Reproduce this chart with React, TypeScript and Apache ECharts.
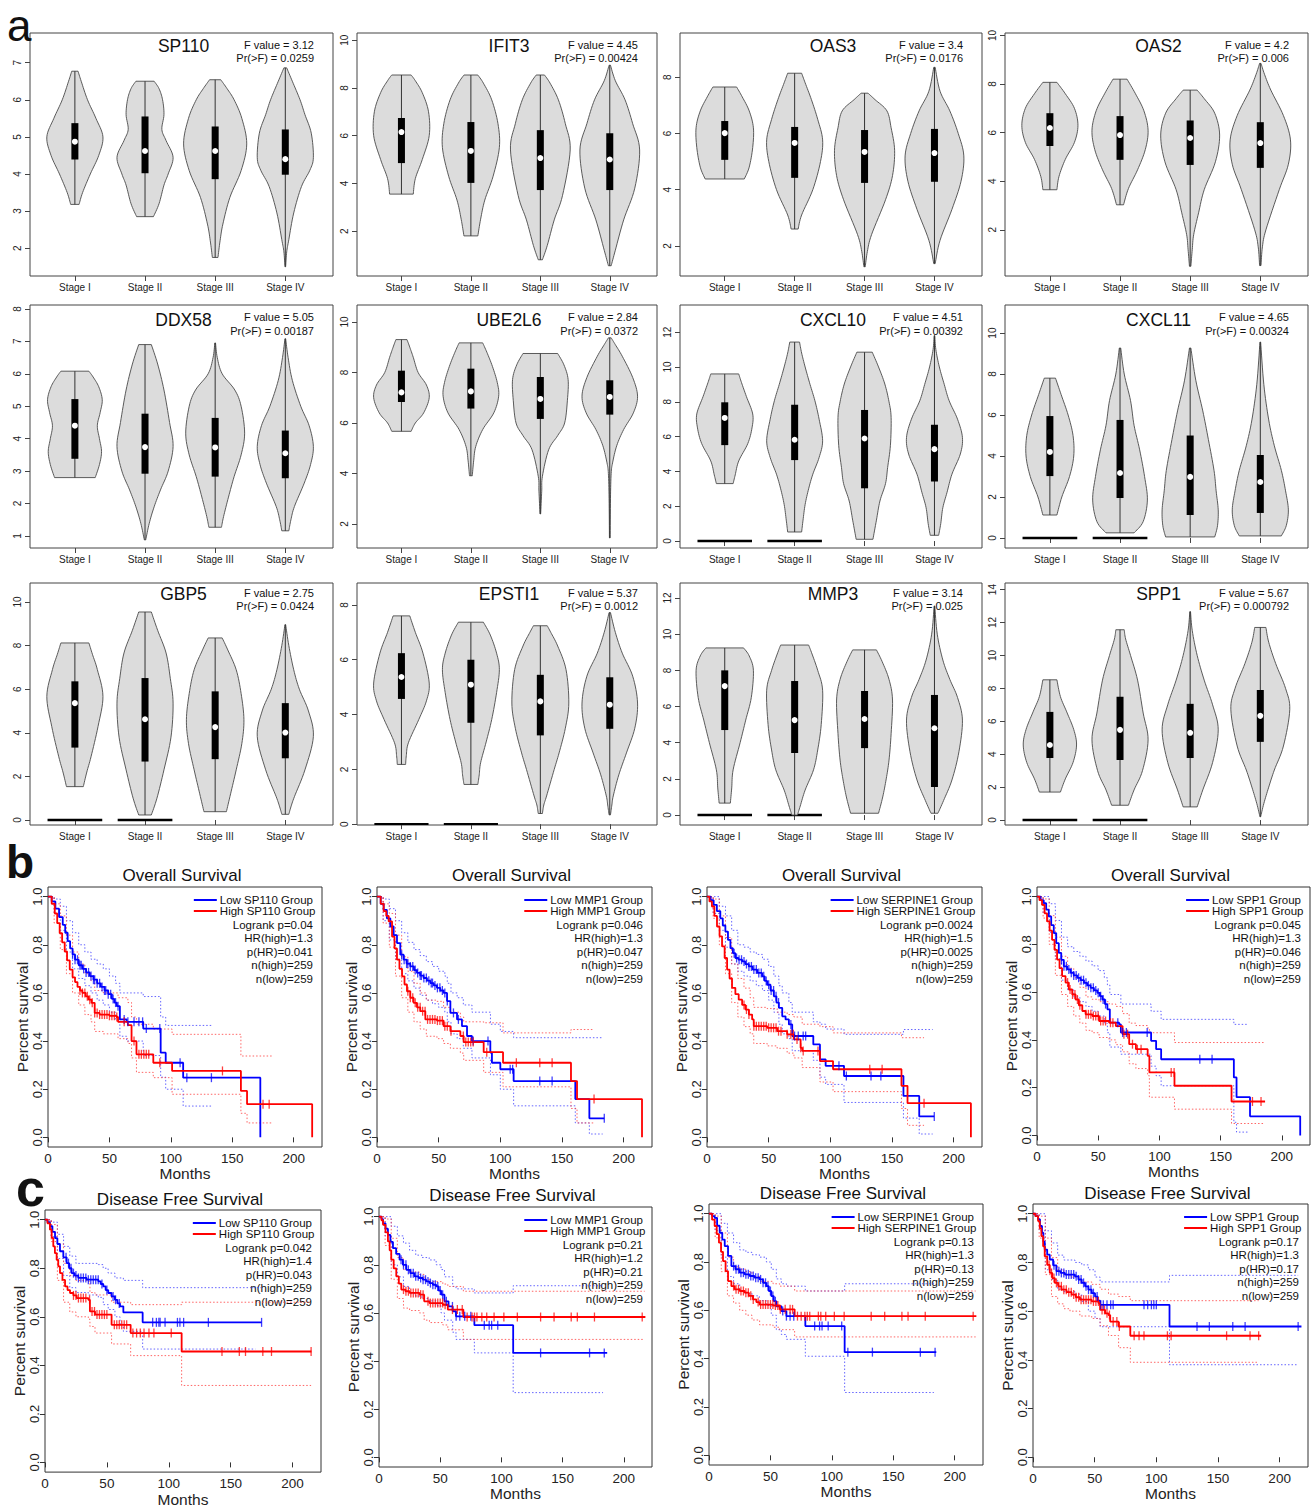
import React, { useEffect, useRef } from "react";
import * as echarts from "echarts";

const FONT = '"Liberation Sans", Arial, Helvetica, sans-serif';
const STAGES = ["Stage I", "Stage II", "Stage III", "Stage IV"];
const STAGE_POS = [1, 2, 3, 4];

// ---------------- Panel a: violin profiles ([expression, half-width]) and boxes [q1, median, q3] ----------------
const sp110Shapes = [
  [[3.18, 0.06], [3.5, 0.11], [4.0, 0.22], [4.5, 0.34], [5.0, 0.4], [5.5, 0.3], [6.0, 0.18], [6.5, 0.09], [6.77, 0.045]],
  [[2.85, 0.12], [3.2, 0.2], [3.7, 0.27], [4.0, 0.33], [4.45, 0.4], [4.9, 0.3], [5.2, 0.24], [5.6, 0.27], [6.0, 0.25], [6.3, 0.2], [6.5, 0.13]],
  [[1.75, 0.04], [2.2, 0.07], [2.65, 0.11], [3.37, 0.21], [4.09, 0.37], [4.81, 0.45], [5.5, 0.38], [6.0, 0.27], [6.3, 0.17], [6.54, 0.08]],
  [[1.5, 0.005], [1.9, 0.02], [2.23, 0.05], [2.95, 0.12], [3.66, 0.23], [4.1, 0.35], [4.44, 0.4], [5.1, 0.37], [5.6, 0.28], [6.0, 0.21], [6.5, 0.1], [6.86, 0.02]],
];
const sp110Boxes = [[4.39, 4.87, 5.37], [4.02, 4.62, 5.55], [3.86, 4.62, 5.28], [3.98, 4.4, 5.2]];
const sp110Ticks = [2, 3, 4, 5, 6, 7];
const sp110Range = [1.25, 7.8];
const sp110Stats = ["3.12", "0.0259"];
const sp110Zero: number[] = [];

const ifit3Shapes = [
  [[3.55, 0.17], [4.2, 0.2], [5.0, 0.3], [6.0, 0.4], [7.0, 0.39], [7.8, 0.3], [8.3, 0.2], [8.54, 0.14]],
  [[1.8, 0.1], [2.5, 0.14], [3.3, 0.2], [4.3, 0.32], [5.5, 0.41], [6.5, 0.39], [7.5, 0.3], [8.2, 0.18], [8.54, 0.1]],
  [[0.8, 0.03], [1.4, 0.1], [2.47, 0.2], [3.5, 0.32], [5.4, 0.43], [6.5, 0.36], [7.5, 0.26], [8.2, 0.14], [8.54, 0.06]],
  [[0.55, 0.02], [1.2, 0.08], [2.47, 0.2], [3.8, 0.36], [5.4, 0.43], [6.5, 0.33], [7.5, 0.22], [8.3, 0.08], [8.95, 0.01]],
];
const ifit3Boxes = [[4.85, 6.15, 6.74], [4.02, 5.36, 6.57], [3.72, 5.06, 6.23], [3.72, 5.0, 6.1]];
const ifit3Ticks = [2, 4, 6, 8, 10];
const ifit3Range = [0.12, 10.3];
const ifit3Stats = ["4.45", "0.00424"];
const ifit3Zero: number[] = [];

const oas3Shapes = [
  [[4.38, 0.28], [4.8, 0.35], [5.5, 0.4], [6.2, 0.41], [6.8, 0.35], [7.3, 0.25], [7.65, 0.17]],
  [[2.6, 0.05], [3.1, 0.1], [4.0, 0.26], [5.0, 0.37], [5.77, 0.4], [6.5, 0.33], [7.2, 0.24], [7.8, 0.15], [8.14, 0.1]],
  [[1.26, 0.01], [1.8, 0.04], [2.4, 0.1], [3.64, 0.3], [4.5, 0.4], [5.4, 0.43], [6.2, 0.38], [6.8, 0.32], [7.2, 0.15], [7.43, 0.05]],
  [[1.37, 0.01], [2.2, 0.08], [3.3, 0.25], [4.3, 0.38], [5.2, 0.42], [6.0, 0.34], [6.8, 0.22], [7.5, 0.08], [8.35, 0.01]],
];
const oas3Boxes = [[5.06, 6.01, 6.44], [4.42, 5.66, 6.23], [4.24, 5.34, 6.12], [4.28, 5.3, 6.16]];
const oas3Ticks = [2, 4, 6, 8];
const oas3Range = [0.93, 9.57];
const oas3Stats = ["3.4", "0.0176"];
const oas3Zero: number[] = [];

const oas2Shapes = [
  [[3.65, 0.1], [4.2, 0.13], [4.9, 0.22], [5.6, 0.35], [6.3, 0.4], [7.0, 0.35], [7.6, 0.22], [8.07, 0.1]],
  [[3.03, 0.05], [3.7, 0.12], [4.47, 0.25], [5.3, 0.36], [6.1, 0.4], [6.9, 0.34], [7.6, 0.22], [8.2, 0.1]],
  [[0.5, 0.01], [1.2, 0.03], [1.8, 0.05], [2.7, 0.12], [3.65, 0.2], [4.8, 0.36], [5.9, 0.42], [6.8, 0.35], [7.4, 0.2], [7.75, 0.1]],
  [[0.53, 0.01], [1.3, 0.03], [2.0, 0.08], [3.65, 0.27], [4.7, 0.4], [5.7, 0.43], [6.7, 0.33], [7.75, 0.15], [8.4, 0.06], [8.85, 0.01]],
];
const oas2Boxes = [[5.45, 6.19, 6.8], [4.88, 5.9, 6.68], [4.67, 5.78, 6.5], [4.55, 5.57, 6.43]];
const oas2Ticks = [2, 4, 6, 8, 10];
const oas2Range = [0.1, 10.1];
const oas2Stats = ["4.2", "0.006"];
const oas2Zero: number[] = [];

const ddx58Shapes = [
  [[2.8, 0.29], [3.2, 0.35], [3.6, 0.38], [4.0, 0.35], [4.4, 0.32], [4.8, 0.36], [5.2, 0.39], [5.6, 0.34], [5.9, 0.26], [6.08, 0.2]],
  [[0.88, 0.01], [1.39, 0.06], [1.9, 0.13], [2.42, 0.22], [3.0, 0.33], [3.76, 0.4], [4.5, 0.35], [5.5, 0.27], [6.3, 0.18], [6.9, 0.09]],
  [[1.27, 0.09], [1.6, 0.12], [2.2, 0.19], [2.83, 0.27], [3.5, 0.37], [4.17, 0.42], [5.0, 0.37], [5.5, 0.28], [6.0, 0.1], [6.5, 0.03], [6.95, 0.005]],
  [[1.16, 0.05], [1.5, 0.08], [1.91, 0.13], [2.63, 0.27], [3.2, 0.36], [3.76, 0.4], [4.4, 0.34], [5.0, 0.22], [5.8, 0.1], [6.5, 0.04], [7.08, 0.005]],
];
const ddx58Boxes = [[3.38, 4.4, 5.22], [2.92, 3.74, 4.77], [2.83, 3.73, 4.64], [2.78, 3.55, 4.25]];
const ddx58Ticks = [1, 2, 3, 4, 5, 6, 7, 8];
const ddx58Range = [0.63, 8.12];
const ddx58Stats = ["5.05", "0.00187"];
const ddx58Zero: number[] = [];

const ube2l6Shapes = [
  [[5.67, 0.14], [6.0, 0.2], [6.4, 0.32], [7.0, 0.4], [7.5, 0.36], [8.0, 0.24], [8.6, 0.17], [9.0, 0.12], [9.3, 0.08]],
  [[3.91, 0.02], [4.5, 0.04], [5.07, 0.07], [5.74, 0.17], [6.4, 0.33], [7.06, 0.4], [7.6, 0.38], [8.24, 0.31], [8.8, 0.23], [9.17, 0.17]],
  [[2.4, 0.005], [3.3, 0.02], [3.89, 0.03], [4.94, 0.12], [5.5, 0.25], [6.0, 0.35], [6.9, 0.39], [7.72, 0.4], [8.3, 0.34], [8.75, 0.25]],
  [[1.45, 0.005], [3.0, 0.01], [4.0, 0.02], [4.42, 0.04], [5.1, 0.1], [5.74, 0.2], [6.4, 0.34], [7.06, 0.4], [7.8, 0.33], [8.64, 0.18], [9.1, 0.08], [9.37, 0.02]],
];
const ube2l6Boxes = [[6.83, 7.21, 8.07], [6.57, 7.25, 8.15], [6.16, 6.95, 7.82], [6.33, 7.03, 7.69]];
const ube2l6Ticks = [2, 4, 6, 8, 10];
const ube2l6Range = [1.05, 10.67];
const ube2l6Stats = ["2.84", "0.0372"];
const ube2l6Zero: number[] = [];

const cxcl10Shapes = [
  [[3.3, 0.12], [3.8, 0.15], [4.6, 0.2], [5.6, 0.33], [6.5, 0.39], [7.3, 0.4], [8.3, 0.31], [9.1, 0.24], [9.6, 0.2]],
  [[0.52, 0.1], [1.2, 0.12], [2.1, 0.15], [3.0, 0.2], [3.84, 0.26], [4.8, 0.35], [5.76, 0.4], [7.0, 0.35], [8.06, 0.29], [9.0, 0.22], [10.0, 0.15], [10.8, 0.1], [11.43, 0.07]],
  [[0.1, 0.12], [1.2, 0.17], [2.3, 0.22], [3.3, 0.3], [4.22, 0.33], [5.5, 0.37], [7.1, 0.38], [8.0, 0.35], [9.02, 0.29], [10.0, 0.2], [10.85, 0.11]],
  [[0.33, 0.06], [1.0, 0.09], [1.92, 0.12], [2.8, 0.18], [3.84, 0.25], [5.0, 0.37], [5.95, 0.4], [7.0, 0.33], [8.06, 0.21], [9.0, 0.14], [10.0, 0.07], [11.0, 0.02], [11.8, 0.005]],
];
const cxcl10Boxes = [[5.51, 7.07, 7.97], [4.65, 5.82, 7.83], [3.03, 5.89, 7.53], [3.42, 5.28, 6.68]];
const cxcl10Ticks = [0, 2, 4, 6, 8, 10, 12];
const cxcl10Range = [-0.4, 13.56];
const cxcl10Stats = ["4.51", "0.00392"];
const cxcl10Zero = [1, 2];

const cxcl11Shapes = [
  [[1.12, 0.1], [2.0, 0.17], [3.0, 0.28], [4.0, 0.34], [5.0, 0.33], [6.0, 0.26], [7.0, 0.16], [7.8, 0.08]],
  [[0.25, 0.2], [0.8, 0.33], [1.85, 0.39], [3.0, 0.35], [4.3, 0.28], [5.5, 0.2], [6.7, 0.15], [8.0, 0.06], [9.27, 0.01]],
  [[0.05, 0.35], [0.6, 0.39], [1.37, 0.4], [2.3, 0.37], [3.3, 0.34], [4.8, 0.26], [6.2, 0.18], [7.7, 0.08], [9.27, 0.01]],
  [[0.1, 0.3], [0.6, 0.37], [1.37, 0.4], [2.3, 0.36], [3.3, 0.3], [4.5, 0.2], [5.76, 0.12], [7.5, 0.05], [9.56, 0.005]],
];
const cxcl11Boxes = [[3.02, 4.2, 5.95], [1.95, 3.17, 5.76], [1.12, 2.98, 5.0], [1.22, 2.73, 4.05]];
const cxcl11Ticks = [0, 2, 4, 6, 8, 10];
const cxcl11Range = [-0.49, 11.37];
const cxcl11Stats = ["4.65", "0.00324"];
const cxcl11Zero = [1, 2];

const gbp5Shapes = [
  [[1.53, 0.12], [2.2, 0.17], [2.9, 0.23], [4.29, 0.33], [5.67, 0.4], [6.9, 0.32], [7.6, 0.25], [8.12, 0.2]],
  [[0.23, 0.09], [1.0, 0.17], [2.3, 0.27], [3.8, 0.37], [5.36, 0.4], [6.5, 0.36], [7.66, 0.3], [8.7, 0.18], [9.54, 0.09]],
  [[0.38, 0.16], [1.2, 0.22], [2.3, 0.3], [3.5, 0.38], [4.6, 0.41], [5.8, 0.37], [6.89, 0.3], [7.8, 0.18], [8.35, 0.1]],
  [[0.26, 0.05], [0.6, 0.08], [1.07, 0.13], [2.3, 0.28], [3.83, 0.4], [5.0, 0.33], [6.0, 0.2], [6.89, 0.12], [8.0, 0.05], [8.96, 0.005]],
];
const gbp5Boxes = [[3.32, 5.36, 6.36], [2.68, 4.62, 6.51], [2.79, 4.26, 5.9], [2.83, 4.01, 5.36]];
const gbp5Ticks = [0, 2, 4, 6, 8, 10];
const gbp5Range = [-0.23, 10.87];
const gbp5Stats = ["2.75", "0.0424"];
const gbp5Zero = [1, 2];

const epsti1Shapes = [
  [[2.18, 0.06], [2.5, 0.07], [2.97, 0.1], [3.82, 0.25], [4.5, 0.36], [5.15, 0.4], [6.24, 0.31], [7.0, 0.2], [7.6, 0.12]],
  [[1.45, 0.1], [1.8, 0.12], [2.24, 0.14], [3.0, 0.22], [3.82, 0.3], [4.8, 0.37], [5.64, 0.41], [6.24, 0.37], [6.9, 0.28], [7.37, 0.18]],
  [[0.39, 0.03], [0.7, 0.05], [1.03, 0.09], [2.0, 0.2], [2.6, 0.27], [3.5, 0.36], [4.42, 0.41], [5.64, 0.37], [6.5, 0.25], [7.0, 0.15], [7.24, 0.1]],
  [[0.34, 0.01], [0.7, 0.03], [1.03, 0.05], [1.8, 0.13], [2.6, 0.24], [3.5, 0.36], [4.42, 0.4], [5.4, 0.33], [6.24, 0.18], [7.0, 0.08], [7.72, 0.01]],
];
const epsti1Boxes = [[4.57, 5.37, 6.24], [3.7, 5.09, 6.0], [3.24, 4.48, 5.45], [3.48, 4.36, 5.36]];
const epsti1Ticks = [0, 2, 4, 6, 8];
const epsti1Range = [-0.03, 8.8];
const epsti1Stats = ["5.37", "0.0012"];
const epsti1Zero = [1, 2];

const mmp3Shapes = [
  [[0.66, 0.08], [1.5, 0.1], [2.5, 0.12], [4.0, 0.22], [5.25, 0.3], [6.5, 0.38], [8.0, 0.41], [8.8, 0.35], [9.24, 0.27]],
  [[0.0, 0.04], [0.5, 0.08], [1.38, 0.15], [2.5, 0.27], [3.6, 0.33], [5.0, 0.38], [6.9, 0.4], [8.0, 0.33], [9.0, 0.24], [9.4, 0.2]],
  [[0.1, 0.2], [1.0, 0.26], [2.0, 0.31], [3.04, 0.35], [4.5, 0.38], [6.36, 0.4], [7.5, 0.35], [8.5, 0.25], [9.13, 0.17]],
  [[0.1, 0.05], [0.8, 0.13], [1.94, 0.25], [3.5, 0.35], [5.25, 0.4], [6.5, 0.33], [7.5, 0.22], [8.57, 0.12], [10.0, 0.04], [11.56, 0.005]],
];
const mmp3Boxes = [[4.7, 7.13, 8.0], [3.43, 5.25, 7.41], [3.7, 5.31, 6.86], [1.55, 4.8, 6.64]];
const mmp3Ticks = [0, 2, 4, 6, 8, 10, 12];
const mmp3Range = [-0.55, 12.83];
const mmp3Stats = ["3.14", "0.025"];
const mmp3Zero = [1, 2];

const spp1Shapes = [
  [[1.7, 0.15], [2.5, 0.22], [3.5, 0.33], [4.56, 0.38], [5.5, 0.34], [6.57, 0.24], [7.5, 0.15], [8.52, 0.1]],
  [[0.9, 0.12], [1.83, 0.2], [3.0, 0.32], [4.87, 0.4], [6.5, 0.33], [8.5, 0.25], [10.0, 0.15], [11.0, 0.08], [11.56, 0.06]],
  [[0.8, 0.1], [1.83, 0.18], [3.5, 0.32], [5.48, 0.4], [7.0, 0.32], [8.5, 0.2], [10.0, 0.1], [11.5, 0.03], [12.66, 0.005]],
  [[0.2, 0.005], [1.0, 0.05], [2.0, 0.12], [3.04, 0.2], [4.5, 0.33], [6.7, 0.42], [8.0, 0.36], [9.5, 0.22], [10.8, 0.12], [11.7, 0.08]],
];
const spp1Boxes = [[3.77, 4.56, 6.57], [3.65, 5.48, 7.49], [3.77, 5.3, 7.06], [4.75, 6.33, 7.9]];
const spp1Ticks = [0, 2, 4, 6, 8, 10, 12, 14];
const spp1Range = [-0.3, 14.4];
const spp1Stats = ["5.67", "0.000792"];
const spp1Zero = [1, 2];

const violinGenes = [
  { name: "SP110", shapes: sp110Shapes, boxes: sp110Boxes, ticks: sp110Ticks, range: sp110Range, stats: sp110Stats, zero: sp110Zero },
  { name: "IFIT3", shapes: ifit3Shapes, boxes: ifit3Boxes, ticks: ifit3Ticks, range: ifit3Range, stats: ifit3Stats, zero: ifit3Zero },
  { name: "OAS3", shapes: oas3Shapes, boxes: oas3Boxes, ticks: oas3Ticks, range: oas3Range, stats: oas3Stats, zero: oas3Zero },
  { name: "OAS2", shapes: oas2Shapes, boxes: oas2Boxes, ticks: oas2Ticks, range: oas2Range, stats: oas2Stats, zero: oas2Zero },
  { name: "DDX58", shapes: ddx58Shapes, boxes: ddx58Boxes, ticks: ddx58Ticks, range: ddx58Range, stats: ddx58Stats, zero: ddx58Zero },
  { name: "UBE2L6", shapes: ube2l6Shapes, boxes: ube2l6Boxes, ticks: ube2l6Ticks, range: ube2l6Range, stats: ube2l6Stats, zero: ube2l6Zero },
  { name: "CXCL10", shapes: cxcl10Shapes, boxes: cxcl10Boxes, ticks: cxcl10Ticks, range: cxcl10Range, stats: cxcl10Stats, zero: cxcl10Zero },
  { name: "CXCL11", shapes: cxcl11Shapes, boxes: cxcl11Boxes, ticks: cxcl11Ticks, range: cxcl11Range, stats: cxcl11Stats, zero: cxcl11Zero },
  { name: "GBP5", shapes: gbp5Shapes, boxes: gbp5Boxes, ticks: gbp5Ticks, range: gbp5Range, stats: gbp5Stats, zero: gbp5Zero },
  { name: "EPSTI1", shapes: epsti1Shapes, boxes: epsti1Boxes, ticks: epsti1Ticks, range: epsti1Range, stats: epsti1Stats, zero: epsti1Zero },
  { name: "MMP3", shapes: mmp3Shapes, boxes: mmp3Boxes, ticks: mmp3Ticks, range: mmp3Range, stats: mmp3Stats, zero: mmp3Zero },
  { name: "SPP1", shapes: spp1Shapes, boxes: spp1Boxes, ticks: spp1Ticks, range: spp1Range, stats: spp1Stats, zero: spp1Zero },
];

// ---------------- Panels b & c: Kaplan-Meier curves [months, survival] ----------------
const kmMonthTicks = [0, 50, 100, 150, 200];
const kmSurvTicks = [0, 0.2, 0.4, 0.6, 0.8, 1.0];

// b1 SP110 OS
const osSp110Low = [[0, 1], [3, 0.98], [6, 0.95], [9, 0.915], [12, 0.883], [14, 0.85], [16, 0.815], [18, 0.785], [20, 0.76], [22, 0.738], [25, 0.715], [28, 0.7], [31, 0.685], [34, 0.67], [37, 0.655], [40, 0.64], [43, 0.625], [46, 0.61], [49, 0.595], [52, 0.575], [54, 0.56], [56, 0.545], [58.5, 0.49], [64, 0.48], [77.5, 0.452], [91.7, 0.352], [95.8, 0.31], [110, 0.248], [172.8, 0]];
const osSp110High = [[0, 1], [3, 0.97], [5.5, 0.93], [7.5, 0.89], [9.5, 0.848], [11.5, 0.81], [13.6, 0.772], [15.5, 0.735], [17.7, 0.697], [20, 0.665], [22, 0.645], [24, 0.625], [26, 0.61], [28, 0.6], [30.7, 0.586], [33, 0.572], [35.4, 0.559], [38, 0.517], [42, 0.51], [50, 0.505], [55.8, 0.5], [57, 0.48], [65, 0.466], [68, 0.4], [72, 0.345], [85.7, 0.31], [101, 0.276], [157, 0.193], [162, 0.138], [215, 0]];
const osSp110LowUp = [[0, 1], [5, 0.99], [10, 0.96], [15, 0.9], [20, 0.85], [25, 0.8], [30, 0.77], [35, 0.74], [40, 0.72], [45, 0.7], [50, 0.67], [55, 0.64], [58.5, 0.6], [77.5, 0.585], [91.7, 0.5], [95.8, 0.465], [133, 0.465]];
const osSp110LowLo = [[0, 1], [5, 0.93], [10, 0.86], [15, 0.77], [20, 0.7], [25, 0.66], [30, 0.63], [35, 0.6], [40, 0.57], [45, 0.55], [50, 0.52], [55, 0.49], [58.5, 0.42], [64, 0.4], [77.5, 0.34], [91.7, 0.25], [95.8, 0.2], [110, 0.13], [133, 0.13]];
const osSp110HighUp = [[0, 1], [5, 0.97], [10, 0.92], [15, 0.84], [20, 0.77], [25, 0.72], [30, 0.68], [35, 0.65], [38, 0.61], [45, 0.6], [57, 0.58], [65, 0.56], [68, 0.5], [72, 0.47], [85.7, 0.45], [101, 0.428], [157, 0.338], [183, 0.338]];
const osSp110HighLo = [[0, 1], [5, 0.89], [10, 0.78], [15, 0.68], [20, 0.6], [25, 0.55], [30, 0.51], [35, 0.48], [38, 0.44], [45, 0.43], [57, 0.41], [65, 0.39], [68, 0.33], [72, 0.27], [85.7, 0.248], [101, 0.179], [157, 0.1], [162, 0.06], [183, 0.06]];
const osSp110LowCens = [20, 22, 24, 26, 27, 29, 31, 33, 35, 37, 38, 40, 42, 44, 46, 47, 49, 51, 53, 55, 57, 62, 65, 70, 74, 77, 80, 91, 107.5, 113, 133];
const osSp110HighCens = [26, 28, 30, 32, 34, 36, 38, 40, 42, 44, 46, 48, 50, 52, 54, 56, 62, 70, 74, 76, 78, 80, 82, 91, 142, 175, 180];
const osSp110Stats = ["Logrank p=0.04", "HR(high)=1.3", "p(HR)=0.041", "n(high)=259", "n(low)=259"];

// b2 MMP1 OS
const osMmp1Low = [[0, 1], [3, 0.97], [5.4, 0.945], [8, 0.91], [10.8, 0.876], [13.5, 0.84], [16.2, 0.807], [18.9, 0.759], [21.6, 0.738], [24, 0.722], [27, 0.71], [30, 0.695], [32.4, 0.683], [35, 0.672], [37.8, 0.662], [40.5, 0.651], [43.2, 0.641], [46, 0.631], [48.6, 0.621], [51.3, 0.61], [54, 0.6], [56.8, 0.566], [59.5, 0.517], [64.9, 0.49], [68.9, 0.462], [73, 0.421], [77, 0.4], [91.9, 0.352], [93.2, 0.31], [100, 0.283], [110.8, 0.234], [160.8, 0.159], [172.2, 0.079], [184.3, 0.079]];
const osMmp1High = [[0, 1], [3, 0.97], [5.4, 0.94], [7.5, 0.92], [9.5, 0.897], [12.2, 0.834], [14.2, 0.785], [16.2, 0.738], [18.2, 0.7], [20.3, 0.669], [22.3, 0.635], [24.3, 0.607], [27, 0.58], [29.7, 0.559], [32.4, 0.54], [35.1, 0.524], [39.2, 0.49], [48.6, 0.485], [54, 0.462], [59.5, 0.441], [67.6, 0.421], [70.3, 0.396], [86.5, 0.354], [102.2, 0.31], [157.3, 0.234], [162.2, 0.159], [214.9, 0]];
const osMmp1LowUp = [[0, 1], [5, 0.99], [10, 0.95], [15, 0.9], [20, 0.85], [25, 0.81], [30, 0.78], [35, 0.755], [40, 0.73], [45, 0.71], [50, 0.69], [55, 0.67], [57, 0.64], [60, 0.6], [65, 0.58], [70, 0.55], [77, 0.52], [92, 0.47], [100, 0.44], [110.8, 0.414], [183, 0.414]];
const osMmp1LowLo = [[0, 1], [5, 0.9], [10, 0.82], [15, 0.74], [20, 0.68], [25, 0.65], [30, 0.62], [35, 0.59], [40, 0.57], [45, 0.555], [50, 0.54], [55, 0.52], [57, 0.48], [60, 0.43], [65, 0.41], [70, 0.37], [77, 0.33], [92, 0.26], [100, 0.2], [110.8, 0.131], [160.8, 0.06], [172.2, 0.014], [183, 0.014]];
const osMmp1HighUp = [[0, 1], [5, 0.97], [10, 0.93], [15, 0.84], [20, 0.75], [25, 0.69], [30, 0.64], [35, 0.6], [40, 0.57], [48.6, 0.565], [54, 0.54], [59.5, 0.52], [67.6, 0.5], [70.3, 0.48], [86.5, 0.476], [102.2, 0.434], [157.3, 0.448], [176, 0.448]];
const osMmp1HighLo = [[0, 1], [5, 0.89], [10, 0.79], [15, 0.67], [20, 0.58], [25, 0.52], [30, 0.48], [35, 0.45], [40, 0.42], [48.6, 0.41], [54, 0.39], [59.5, 0.37], [67.6, 0.35], [70.3, 0.32], [86.5, 0.27], [102.2, 0.21], [157.3, 0.12], [162.2, 0.06], [176, 0.06]];
const osMmp1LowCens = [20, 22, 24, 25, 27, 29, 31, 33, 35, 36, 38, 40, 42, 44, 45, 47, 49, 51, 53, 55, 57, 62, 66, 78, 90, 108, 110, 132, 142, 184.3];
const osMmp1HighCens = [25, 27, 29, 31, 33, 35, 37, 39, 41, 43, 45, 47, 49, 51, 53, 55, 57, 60, 70, 72, 74, 76, 78, 89, 113, 132, 142, 176];
const osMmp1Stats = ["Logrank p=0.046", "HR(high)=1.3", "p(HR)=0.047", "n(high)=259", "n(low)=259"];

// b3 SERPINE1 OS
const osSerLow = [[0, 1], [3, 0.985], [5.4, 0.966], [8, 0.94], [10.8, 0.91], [12.8, 0.88], [14.9, 0.855], [17, 0.82], [19, 0.786], [21, 0.765], [23, 0.745], [25.5, 0.738], [28.5, 0.731], [31, 0.72], [33.9, 0.71], [37, 0.697], [40.7, 0.683], [44.7, 0.669], [46.8, 0.65], [48.8, 0.634], [51.5, 0.61], [54.2, 0.586], [56.3, 0.56], [58.3, 0.538], [61, 0.503], [63.7, 0.49], [66.4, 0.469], [69.1, 0.421], [86.2, 0.386], [91.6, 0.324], [96.2, 0.297], [111.1, 0.255], [159.3, 0.172], [172.1, 0.087], [184.3, 0.087]];
const osSerHigh = [[0, 1], [2, 0.98], [4, 0.959], [6, 0.92], [8.1, 0.876], [10.2, 0.835], [12.2, 0.793], [14.3, 0.745], [16.3, 0.697], [18.3, 0.66], [20.3, 0.621], [23, 0.595], [25.7, 0.572], [28.5, 0.55], [31.2, 0.531], [34, 0.51], [36.6, 0.49], [37.9, 0.462], [48.8, 0.455], [56.9, 0.441], [65, 0.428], [70.5, 0.407], [75.9, 0.372], [77.2, 0.359], [91.6, 0.317], [102.2, 0.283], [157.7, 0.214], [162.6, 0.142], [214, 0]];
const osSerLowUp = [[0, 1], [5, 1], [10, 0.96], [15, 0.92], [20, 0.86], [25, 0.8], [30, 0.79], [35, 0.77], [40, 0.76], [45, 0.74], [50, 0.71], [54.2, 0.67], [58.3, 0.63], [61, 0.6], [66.4, 0.56], [69.1, 0.52], [86.2, 0.48], [91.6, 0.47], [96.2, 0.45], [111.1, 0.428], [159.3, 0.448], [183, 0.448]];
const osSerLowLo = [[0, 1], [5, 0.93], [10, 0.86], [15, 0.79], [20, 0.72], [25, 0.69], [30, 0.67], [35, 0.65], [40, 0.63], [45, 0.61], [50, 0.57], [54.2, 0.52], [58.3, 0.47], [61, 0.43], [66.4, 0.41], [69.1, 0.36], [86.2, 0.32], [91.6, 0.25], [96.2, 0.22], [111.1, 0.145], [159.3, 0.08], [172.1, 0.014], [183, 0.014]];
const osSerHighUp = [[0, 1], [5, 0.99], [10, 0.92], [15, 0.83], [20, 0.72], [25, 0.66], [30, 0.62], [35, 0.58], [37.9, 0.54], [48.8, 0.535], [56.9, 0.52], [65, 0.51], [70.5, 0.5], [77.2, 0.47], [91.6, 0.46], [102.2, 0.434], [157.7, 0.414], [176, 0.414]];
const osSerHighLo = [[0, 1], [5, 0.91], [10, 0.8], [15, 0.68], [20, 0.56], [25, 0.5], [30, 0.46], [35, 0.43], [37.9, 0.39], [48.8, 0.38], [56.9, 0.37], [65, 0.35], [70.5, 0.33], [77.2, 0.29], [91.6, 0.23], [102.2, 0.19], [157.7, 0.12], [162.6, 0.05], [176, 0.05]];
const osSerLowCens = [22, 24, 26, 28, 30, 32, 34, 36, 38, 40, 42, 44, 46, 48, 50, 52, 54, 56, 58, 68, 71, 74, 78, 80, 107, 113, 133, 141, 184.3];
const osSerHighCens = [30, 32, 34, 38, 40, 42, 44, 46, 48, 50, 52, 54, 56, 58, 60, 65, 68, 70, 73, 76, 78, 90, 132, 142, 176];
const osSerStats = ["Logrank p=0.0024", "HR(high)=1.5", "p(HR)=0.0025", "n(high)=259", "n(low)=259"];

// b4 SPP1 OS
const osSppLow = [[0, 1], [3, 0.985], [5.5, 0.972], [7.5, 0.945], [9.6, 0.917], [11.6, 0.88], [13.7, 0.847], [15.7, 0.805], [17.8, 0.764], [19.8, 0.735], [21.9, 0.708], [24.6, 0.695], [27.4, 0.681], [30, 0.67], [32.9, 0.66], [35.6, 0.65], [38.4, 0.639], [41, 0.628], [43.8, 0.618], [46.5, 0.607], [49.3, 0.597], [51.4, 0.583], [53.4, 0.569], [55.5, 0.55], [57.5, 0.528], [59.5, 0.472], [67.1, 0.465], [68.5, 0.431], [93.2, 0.396], [97.3, 0.361], [101.4, 0.319], [160.8, 0.243], [163, 0.16], [174, 0.08], [215, 0]];
const osSppHigh = [[0, 1], [2, 0.985], [4.1, 0.965], [6.2, 0.93], [8.2, 0.896], [10.3, 0.857], [12.3, 0.819], [14.3, 0.777], [16.4, 0.736], [18.4, 0.7], [20.5, 0.667], [23.3, 0.64], [26, 0.611], [28.8, 0.59], [31.5, 0.569], [34.2, 0.545], [37, 0.521], [39.7, 0.507], [45.2, 0.5], [50.7, 0.479], [58.9, 0.472], [64.4, 0.458], [69.9, 0.424], [75.3, 0.382], [80.8, 0.361], [90.4, 0.333], [91.8, 0.264], [112.3, 0.208], [158.9, 0.142], [186.3, 0.142]];
const osSppLowUp = [[0, 1], [5, 1], [10, 0.97], [15, 0.9], [20, 0.83], [25, 0.79], [30, 0.77], [35, 0.75], [40, 0.73], [45, 0.71], [50, 0.69], [55, 0.66], [57.5, 0.63], [59.5, 0.59], [68.5, 0.55], [93.2, 0.52], [101.4, 0.486], [160.8, 0.465], [172, 0.465]];
const osSppLowLo = [[0, 1], [5, 0.93], [10, 0.85], [15, 0.74], [20, 0.65], [25, 0.61], [30, 0.58], [35, 0.56], [40, 0.54], [45, 0.52], [50, 0.5], [55, 0.47], [57.5, 0.43], [59.5, 0.37], [68.5, 0.34], [93.2, 0.29], [97.3, 0.25], [101.4, 0.208], [160.8, 0.055], [163, 0.014], [172, 0.014]];
const osSppHighUp = [[0, 1], [5, 0.99], [10, 0.92], [15, 0.83], [20, 0.75], [25, 0.7], [30, 0.66], [35, 0.62], [40, 0.58], [45, 0.57], [50.7, 0.56], [58.9, 0.55], [64.4, 0.54], [69.9, 0.51], [75.3, 0.47], [80.8, 0.46], [90.4, 0.45], [91.8, 0.43], [112.3, 0.389], [186, 0.389]];
const osSppHighLo = [[0, 1], [5, 0.91], [10, 0.8], [15, 0.67], [20, 0.59], [25, 0.54], [30, 0.5], [35, 0.47], [40, 0.44], [45, 0.43], [50.7, 0.41], [58.9, 0.4], [64.4, 0.38], [69.9, 0.35], [75.3, 0.3], [80.8, 0.28], [90.4, 0.25], [91.8, 0.16], [112.3, 0.11], [158.9, 0.05], [186, 0.05]];
const osSppLowCens = [20, 22, 24, 26, 28, 30, 32, 34, 36, 38, 40, 42, 44, 46, 48, 50, 52, 54, 56, 66, 70, 73, 90, 133, 143];
const osSppHighCens = [25, 27, 29, 31, 33, 35, 40, 42, 44, 46, 48, 50, 52, 54, 56, 60, 62, 71, 74, 78, 82, 85, 109.6, 112, 176, 183];
const osSppStats = ["Logrank p=0.045", "HR(high)=1.3", "p(HR)=0.046", "n(high)=259", "n(low)=259"];

// c1 SP110 DFS
const dfsSp110Low = [[0, 1], [2, 0.99], [4, 0.973], [6, 0.95], [8.1, 0.924], [10, 0.9], [12.1, 0.87], [14.8, 0.845], [17.5, 0.821], [19.5, 0.8], [21.5, 0.78], [24, 0.77], [26.9, 0.76], [33.6, 0.753], [43.1, 0.746], [45, 0.735], [47.1, 0.725], [49, 0.71], [51.1, 0.698], [53.8, 0.684], [56.5, 0.67], [58.5, 0.655], [60.6, 0.643], [63.3, 0.618], [78.9, 0.577], [175, 0.577]];
const dfsSp110High = [[0, 1], [2, 0.985], [4, 0.959], [5.4, 0.925], [6.7, 0.89], [8, 0.862], [9.4, 0.835], [10.7, 0.808], [12.1, 0.78], [14.1, 0.752], [16.2, 0.725], [18.2, 0.71], [20.2, 0.698], [22.9, 0.688], [25.6, 0.677], [35, 0.67], [36.3, 0.622], [40.4, 0.609], [53.8, 0.567], [69.2, 0.533], [110.4, 0.457], [215.3, 0.457]];
const dfsSp110LowUp = [[0, 1], [5, 0.99], [10, 0.94], [15, 0.89], [20, 0.85], [25, 0.82], [43, 0.815], [47, 0.8], [51, 0.78], [56.5, 0.76], [63.3, 0.75], [78.9, 0.72], [175, 0.72]];
const dfsSp110LowLo = [[0, 1], [5, 0.93], [10, 0.84], [15, 0.77], [20, 0.72], [25, 0.7], [35, 0.69], [43.1, 0.68], [47.1, 0.65], [51.1, 0.63], [56.5, 0.6], [60.6, 0.57], [63.3, 0.54], [78.9, 0.467], [170, 0.467]];
const dfsSp110HighUp = [[0, 1], [5, 0.98], [10, 0.9], [15, 0.82], [20, 0.77], [25, 0.75], [35, 0.745], [36.3, 0.7], [40.4, 0.69], [53.8, 0.66], [69.2, 0.65], [110.4, 0.66], [215, 0.66]];
const dfsSp110HighLo = [[0, 1], [5, 0.91], [10, 0.75], [15, 0.66], [20, 0.62], [25, 0.6], [35, 0.59], [36.3, 0.56], [40.4, 0.533], [53.8, 0.488], [69.2, 0.44], [110.4, 0.317], [215, 0.317]];
const dfsSp110LowCens = [17, 19, 21, 23, 25, 27, 29, 31, 33, 35, 37, 39, 41, 43, 46, 50, 55, 57, 60, 87, 90, 92, 93, 97, 107, 109, 112, 132, 175];
const dfsSp110HighCens = [23, 25, 27, 29, 31, 33, 36, 38, 40, 42, 44, 46, 48, 50, 56, 58, 60, 62, 64, 66, 71, 74, 77, 80, 84, 88, 102, 143, 157, 162, 176, 183, 215];
const dfsSp110Stats = ["Logrank p=0.042", "HR(high)=1.4", "p(HR)=0.043", "n(high)=259", "n(low)=259"];

// c2 MMP1 DFS
const dfsMmp1Low = [[0, 1], [2, 0.99], [3.3, 0.972], [5.3, 0.95], [7.3, 0.924], [9.3, 0.895], [11.4, 0.869], [14, 0.845], [16.8, 0.821], [19.5, 0.8], [22.3, 0.779], [25.5, 0.765], [29, 0.752], [32.4, 0.745], [35.8, 0.738], [38.5, 0.731], [41.2, 0.724], [44, 0.717], [46.7, 0.71], [48.7, 0.693], [50.7, 0.676], [53.5, 0.648], [56.8, 0.627], [60.2, 0.607], [62.9, 0.586], [77.9, 0.549], [109.6, 0.434], [186.4, 0.434]];
const dfsMmp1High = [[0, 1], [2, 0.985], [3.3, 0.966], [5.3, 0.935], [7.3, 0.897], [8.7, 0.86], [10, 0.821], [12, 0.785], [14.1, 0.752], [16.2, 0.722], [18.2, 0.697], [21.6, 0.69], [25, 0.683], [33.1, 0.676], [36.9, 0.648], [41.2, 0.641], [52.1, 0.634], [56.2, 0.614], [68.9, 0.583], [217.6, 0.583]];
const dfsMmp1LowUp = [[0, 1], [5, 1], [10, 0.96], [15, 0.92], [20, 0.89], [25, 0.86], [30, 0.84], [35, 0.83], [41, 0.82], [46.7, 0.8], [50.7, 0.78], [53.5, 0.75], [60.2, 0.71], [62.9, 0.7], [77.9, 0.683], [109.6, 0.713], [183, 0.713]];
const dfsMmp1LowLo = [[0, 1], [5, 0.92], [10, 0.8], [15, 0.75], [20, 0.71], [25, 0.68], [30, 0.67], [35, 0.66], [41, 0.65], [46.7, 0.63], [50.7, 0.6], [53.5, 0.57], [60.2, 0.52], [62.9, 0.49], [77.9, 0.434], [109.6, 0.269], [183, 0.269]];
const dfsMmp1HighUp = [[0, 1], [5, 0.99], [10, 0.91], [15, 0.83], [20, 0.78], [25, 0.77], [33, 0.76], [36.9, 0.74], [41.2, 0.73], [52.1, 0.72], [56.2, 0.71], [68.9, 0.69], [217, 0.69]];
const dfsMmp1HighLo = [[0, 1], [5, 0.88], [10, 0.74], [15, 0.66], [20, 0.62], [25, 0.61], [33, 0.6], [36.9, 0.57], [41.2, 0.56], [52.1, 0.55], [56.2, 0.53], [68.9, 0.49], [217, 0.49]];
const dfsMmp1LowCens = [18, 20, 22, 24, 26, 28, 30, 32, 34, 36, 38, 40, 42, 44, 46, 48, 50, 52, 55, 60, 63, 66, 70, 75, 86, 90, 92, 97, 132, 172, 184];
const dfsMmp1HighCens = [20, 22, 24, 26, 28, 30, 32, 34, 36, 40, 42, 44, 46, 48, 50, 52, 54, 60, 64, 68, 72, 76, 78, 80, 84, 88, 94, 102, 113, 132, 143, 157, 162, 176, 215];
const dfsMmp1Stats = ["Logrank p=0.21", "HR(high)=1.2", "p(HR)=0.21", "n(high)=259", "n(low)=259"];

// c3 SERPINE1 DFS
const dfsSerLow = [[0, 1], [2.5, 0.99], [4.6, 0.983], [6.6, 0.95], [8.7, 0.921], [10.8, 0.893], [12.8, 0.866], [15.5, 0.825], [18.2, 0.783], [21.5, 0.77], [25, 0.756], [29, 0.749], [33.1, 0.742], [37, 0.735], [41.2, 0.728], [44, 0.714], [46.7, 0.7], [48.7, 0.68], [50.7, 0.659], [52.7, 0.638], [54.8, 0.617], [58.9, 0.597], [63, 0.576], [78.4, 0.535], [110.4, 0.427], [185, 0.427]];
const dfsSerHigh = [[0, 1], [2.5, 0.975], [4.6, 0.949], [6.3, 0.915], [8.1, 0.88], [9.8, 0.842], [11.4, 0.804], [13.5, 0.762], [15.5, 0.721], [18.2, 0.7], [20.9, 0.687], [25, 0.68], [29, 0.673], [32.4, 0.66], [35.8, 0.645], [38.5, 0.634], [41.2, 0.624], [52.1, 0.62], [57.5, 0.604], [69.7, 0.576], [217.6, 0.576]];
const dfsSerLowUp = [[0, 1], [5, 1], [10, 0.96], [15, 0.92], [20, 0.88], [25, 0.85], [30, 0.84], [35, 0.83], [41, 0.82], [46.7, 0.8], [50.7, 0.77], [54.8, 0.73], [58.9, 0.71], [63, 0.7], [78.4, 0.68], [110.4, 0.71], [183, 0.71]];
const dfsSerLowLo = [[0, 1], [5, 0.93], [10, 0.82], [15, 0.74], [20, 0.71], [25, 0.68], [30, 0.67], [35, 0.66], [41, 0.64], [46.7, 0.62], [50.7, 0.58], [54.8, 0.52], [58.9, 0.5], [63, 0.48], [78.4, 0.41], [110.4, 0.26], [183, 0.26]];
const dfsSerHighUp = [[0, 1], [5, 0.99], [10, 0.92], [15, 0.82], [20, 0.78], [25, 0.77], [30, 0.76], [35, 0.74], [41.2, 0.72], [52.1, 0.71], [57.5, 0.7], [69.7, 0.68], [217, 0.68]];
const dfsSerHighLo = [[0, 1], [5, 0.9], [10, 0.76], [15, 0.66], [20, 0.63], [25, 0.6], [30, 0.58], [35, 0.56], [41.2, 0.54], [52.1, 0.53], [57.5, 0.52], [69.7, 0.49], [217, 0.49]];
const dfsSerLowCens = [20, 22, 24, 26, 28, 30, 32, 34, 36, 38, 40, 42, 44, 46, 48, 50, 52, 54, 60, 63, 66, 69, 86, 90, 92, 97, 108, 113, 133, 172, 184];
const dfsSerHighCens = [20, 22, 24, 26, 28, 30, 32, 34, 36, 40, 42, 44, 46, 48, 50, 52, 54, 56, 58, 62, 66, 68, 72, 75, 78, 80, 82, 89, 91, 95, 102, 110, 132, 143, 157, 162, 176, 215];
const dfsSerStats = ["Logrank p=0.13", "HR(high)=1.3", "p(HR)=0.13", "n(high)=259", "n(low)=259"];

// c4 SPP1 DFS
const dfsSppLow = [[0, 1], [2, 0.99], [4.1, 0.977], [5.7, 0.95], [7.3, 0.922], [8.4, 0.885], [9.5, 0.853], [11.5, 0.832], [13.6, 0.812], [16.3, 0.788], [19, 0.764], [22.4, 0.757], [25.9, 0.75], [34, 0.743], [36.8, 0.73], [39.5, 0.716], [42.2, 0.702], [44.9, 0.688], [47.6, 0.674], [50.3, 0.66], [52.4, 0.643], [54.4, 0.626], [110.7, 0.537], [217.7, 0.537]];
const dfsSppHigh = [[0, 1], [2, 0.99], [4.1, 0.97], [5.5, 0.94], [6.8, 0.908], [8.2, 0.866], [9.5, 0.825], [11.5, 0.79], [13.6, 0.757], [15.6, 0.736], [17.7, 0.716], [20.4, 0.702], [23.1, 0.688], [27.2, 0.678], [31.3, 0.668], [34.7, 0.657], [38.1, 0.647], [47.6, 0.64], [53.1, 0.633], [54.4, 0.605], [58.5, 0.591], [61.2, 0.584], [62.6, 0.557], [69.4, 0.537], [78.9, 0.499], [185, 0.499]];
const dfsSppLowUp = [[0, 1], [5, 1], [10, 0.93], [15, 0.88], [20, 0.83], [25, 0.81], [34, 0.8], [39.5, 0.79], [44.9, 0.77], [50.3, 0.74], [54.4, 0.72], [110.7, 0.747], [215, 0.747]];
const dfsSppLowLo = [[0, 1], [5, 0.93], [10, 0.77], [15, 0.73], [20, 0.69], [25, 0.68], [34, 0.67], [39.5, 0.64], [44.9, 0.6], [50.3, 0.57], [54.4, 0.536], [110.7, 0.38], [215, 0.38]];
const dfsSppHighUp = [[0, 1], [5, 0.99], [10, 0.9], [15, 0.82], [20, 0.77], [25, 0.75], [30, 0.74], [38, 0.72], [47.6, 0.71], [54.4, 0.69], [61.2, 0.67], [69.4, 0.66], [78.9, 0.643], [183, 0.643]];
const dfsSppHighLo = [[0, 1], [5, 0.9], [10, 0.75], [15, 0.66], [20, 0.63], [25, 0.61], [30, 0.6], [38, 0.58], [47.6, 0.57], [54.4, 0.54], [61.2, 0.5], [69.4, 0.45], [78.9, 0.39], [183, 0.39]];
const dfsSppLowCens = [17, 19, 21, 23, 25, 27, 29, 31, 33, 35, 37, 39, 41, 43, 45, 47, 49, 52, 55, 57, 60, 63, 65, 90, 93, 96, 98, 100, 133, 143, 162, 172, 215];
const dfsSppHighCens = [13, 15, 17, 19, 21, 23, 25, 27, 29, 31, 33, 35, 37, 39, 41, 43, 45, 47, 49, 51, 53, 56, 58, 60, 62, 65, 68, 70, 82, 86, 90, 109, 112, 157, 176, 183];
const dfsSppStats = ["Logrank p=0.17", "HR(high)=1.3", "p(HR)=0.17", "n(high)=259", "n(low)=259"];

const kmPlots = [
  { title: "Overall Survival", gene: "SP110", low: osSp110Low, high: osSp110High, lowUp: osSp110LowUp, lowLo: osSp110LowLo, highUp: osSp110HighUp, highLo: osSp110HighLo, lowCens: osSp110LowCens, highCens: osSp110HighCens, stats: osSp110Stats },
  { title: "Overall Survival", gene: "MMP1", low: osMmp1Low, high: osMmp1High, lowUp: osMmp1LowUp, lowLo: osMmp1LowLo, highUp: osMmp1HighUp, highLo: osMmp1HighLo, lowCens: osMmp1LowCens, highCens: osMmp1HighCens, stats: osMmp1Stats },
  { title: "Overall Survival", gene: "SERPINE1", low: osSerLow, high: osSerHigh, lowUp: osSerLowUp, lowLo: osSerLowLo, highUp: osSerHighUp, highLo: osSerHighLo, lowCens: osSerLowCens, highCens: osSerHighCens, stats: osSerStats },
  { title: "Overall Survival", gene: "SPP1", low: osSppLow, high: osSppHigh, lowUp: osSppLowUp, lowLo: osSppLowLo, highUp: osSppHighUp, highLo: osSppHighLo, lowCens: osSppLowCens, highCens: osSppHighCens, stats: osSppStats },
  { title: "Disease Free Survival", gene: "SP110", low: dfsSp110Low, high: dfsSp110High, lowUp: dfsSp110LowUp, lowLo: dfsSp110LowLo, highUp: dfsSp110HighUp, highLo: dfsSp110HighLo, lowCens: dfsSp110LowCens, highCens: dfsSp110HighCens, stats: dfsSp110Stats },
  { title: "Disease Free Survival", gene: "MMP1", low: dfsMmp1Low, high: dfsMmp1High, lowUp: dfsMmp1LowUp, lowLo: dfsMmp1LowLo, highUp: dfsMmp1HighUp, highLo: dfsMmp1HighLo, lowCens: dfsMmp1LowCens, highCens: dfsMmp1HighCens, stats: dfsMmp1Stats },
  { title: "Disease Free Survival", gene: "SERPINE1", low: dfsSerLow, high: dfsSerHigh, lowUp: dfsSerLowUp, lowLo: dfsSerLowLo, highUp: dfsSerHighUp, highLo: dfsSerHighLo, lowCens: dfsSerLowCens, highCens: dfsSerHighCens, stats: dfsSerStats },
  { title: "Disease Free Survival", gene: "SPP1", low: dfsSppLow, high: dfsSppHigh, lowUp: dfsSppLowUp, lowLo: dfsSppLowLo, highUp: dfsSppHighUp, highLo: dfsSppHighLo, lowCens: dfsSppLowCens, highCens: dfsSppHighCens, stats: dfsSppStats },
];

// ---------------- layout (pixels) ----------------
const V_COLS = [[30, 333], [357, 657], [680, 982], [1005, 1308]];
const V_ROWS = [[33, 276], [305, 548], [583, 825]];
const V_TITLE_DY = [13, 15, 11];
const V_F_DY = [[12, 25], [12, 26], [10, 23]];
const KM_RECTS = [
  [48, 887, 322, 1147], [377, 887, 652, 1147], [707, 887, 982, 1147], [1037, 887, 1310, 1145],
  [45, 1210, 321, 1473], [379, 1207, 652, 1467], [709, 1204, 983, 1465], [1033, 1204, 1308, 1467],
];
const KM_TITLE_Y = [875, 875, 875, 875, 1199, 1195, 1193, 1193];
const LEG_DY = [13, 24, 37.5, 51, 64.5, 78, 91.5];
const BLUE = "#0000FF";
const RED = "#FF0000";

function smoothProfile(p: number[][]) {
  const out: number[][] = [];
  const n = p.length;
  for (let i = 0; i < n - 1; i++) {
    const p0 = p[Math.max(i - 1, 0)], p1 = p[i], p2 = p[i + 1], p3 = p[Math.min(i + 2, n - 1)];
    for (let s = 0; s < 8; s++) {
      const t = s / 8, t2 = t * t, t3 = t2 * t;
      const f = (a: number, b: number, c: number, d: number) =>
        0.5 * (2 * b + (-a + c) * t + (2 * a - 5 * b + 4 * c - d) * t2 + (-a + 3 * b - 3 * c + d) * t3);
      out.push([f(p0[0], p1[0], p2[0], p3[0]), Math.max(0.002, f(p0[1], p1[1], p2[1], p3[1]))]);
    }
  }
  out.push(p[n - 1]);
  return out;
}

function survAt(curve: number[][], t: number) {
  let s = curve[0][1];
  for (const [x, y] of curve) {
    if (x <= t) s = y;
    else break;
  }
  return s;
}

let measureCtx: CanvasRenderingContext2D | null = null;
function textWidth(s: string, size: number) {
  if (!measureCtx) measureCtx = document.createElement("canvas").getContext("2d");
  if (!measureCtx) return s.length * size * 0.55;
  measureCtx.font = `${size}px ${FONT}`;
  return measureCtx.measureText(s).width;
}

function buildOption() {
  const grids: any[] = [];
  const xAxes: any[] = [];
  const yAxes: any[] = [];
  const series: any[] = [];
  const graphics: any[] = [];

  const txt = (x: number, y: number, text: string, size: number, align = "center", weight = "normal") => ({
    type: "text",
    x,
    y,
    silent: true,
    style: { text, fontSize: size, fontFamily: FONT, fontWeight: weight, fill: "#111", align, verticalAlign: "middle" },
  });

  // ---- violins ----
  violinGenes.forEach((g, i) => {
    const r = Math.floor(i / 4), c = i % 4;
    const [l, rr] = V_COLS[c];
    const [t, b] = V_ROWS[r];
    grids.push({ left: l, top: t, width: rr - l, height: b - t, show: true, borderColor: "#444", borderWidth: 1, backgroundColor: "transparent" });
    xAxes.push({
      type: "value", gridIndex: i, min: 0.36, max: 4.68,
      axisLine: { show: false }, splitLine: { show: false },
      axisTick: { show: true, length: 5, customValues: STAGE_POS, lineStyle: { color: "#444" } },
      axisLabel: { customValues: STAGE_POS, formatter: (v: number) => STAGES[Math.round(v) - 1] || "", fontSize: 10, fontFamily: FONT, color: "#222", margin: 6 },
    });
    yAxes.push({
      type: "value", gridIndex: i, min: g.range[0], max: g.range[1],
      axisLine: { show: false }, splitLine: { show: false },
      axisTick: { show: true, length: 5, customValues: g.ticks, lineStyle: { color: "#444" } },
      axisLabel: { customValues: g.ticks, rotate: 90, fontSize: 10, fontFamily: FONT, color: "#222", margin: 8 },
    });
    series.push({
      type: "custom", xAxisIndex: i, yAxisIndex: i, clip: true, silent: true,
      data: STAGE_POS.map((p, k) => [p, g.boxes[k][1]]),
      encode: { x: 0, y: 1 },
      renderItem: (params: any, api: any) => {
        const k = params.dataIndex;
        const xc = api.value(0);
        const raw = g.shapes[k];
        const prof = smoothProfile(raw);
        const pts: number[][] = [];
        for (const [y, w] of prof) pts.push(api.coord([xc - w, y]));
        for (let j = prof.length - 1; j >= 0; j--) pts.push(api.coord([xc + prof[j][1], prof[j][0]]));
        const pMin = api.coord([xc, raw[0][0]]);
        const pMax = api.coord([xc, raw[raw.length - 1][0]]);
        const bx = g.boxes[k];
        const q1 = api.coord([xc, bx[0]]), med = api.coord([xc, bx[1]]), q3 = api.coord([xc, bx[2]]);
        const children: any[] = [];
        if (g.zero.includes(k + 1)) {
          const z1 = api.coord([xc - 0.39, 0]), z2 = api.coord([xc + 0.39, 0]);
          children.push({ type: "line", shape: { x1: z1[0], y1: z1[1], x2: z2[0], y2: z2[1] }, style: { stroke: "#000", lineWidth: 2.5 } });
        }
        children.push({ type: "polygon", shape: { points: pts }, style: { fill: "#DCDCDC", stroke: "#4a4a4a", lineWidth: 0.9 } });
        children.push({ type: "line", shape: { x1: pMin[0], y1: pMin[1], x2: pMax[0], y2: pMax[1] }, style: { stroke: "#333", lineWidth: 1 } });
        children.push({ type: "rect", shape: { x: q3[0] - 3.5, y: q3[1], width: 7, height: q1[1] - q3[1] }, style: { fill: "#000" } });
        children.push({ type: "circle", shape: { cx: med[0], cy: med[1], r: 3 }, style: { fill: "#fff" } });
        return { type: "group", children };
      },
    });
    graphics.push(txt((l + rr) / 2 + 2, t + V_TITLE_DY[r], g.name, 17.5));
    graphics.push(txt(rr - 19, t + V_F_DY[r][0], `F value = ${g.stats[0]}`, 11, "right"));
    graphics.push(txt(rr - 19, t + V_F_DY[r][1], `Pr(>F) = ${g.stats[1]}`, 11, "right"));
  });

  // ---- Kaplan-Meier ----
  kmPlots.forEach((p, j) => {
    const gi = 12 + j;
    const [l, t, rr, b] = KM_RECTS[j];
    grids.push({ left: l, top: t, width: rr - l, height: b - t, show: true, borderColor: "#333", borderWidth: 1, backgroundColor: "transparent" });
    xAxes.push({
      type: "value", gridIndex: gi, min: 0, max: 223,
      axisLine: { show: false }, splitLine: { show: false },
      axisTick: { show: true, length: 5, customValues: kmMonthTicks, lineStyle: { color: "#333" } },
      axisLabel: { customValues: kmMonthTicks, fontSize: 13.5, fontFamily: FONT, color: "#222", margin: 4 },
      name: "Months", nameLocation: "middle", nameGap: 18,
      nameTextStyle: { fontSize: 15.5, fontFamily: FONT, color: "#222" },
    });
    yAxes.push({
      type: "value", gridIndex: gi, min: -0.04, max: 1.04,
      axisLine: { show: false }, splitLine: { show: false },
      axisTick: { show: true, length: 5, customValues: kmSurvTicks, lineStyle: { color: "#333" } },
      axisLabel: { customValues: kmSurvTicks, formatter: (v: number) => v.toFixed(1), rotate: 90, fontSize: 13, fontFamily: FONT, color: "#222", margin: 4 },
      name: "Percent survival", nameLocation: "middle", nameRotate: 90, nameGap: 15,
      nameTextStyle: { fontSize: 15.5, fontFamily: FONT, color: "#222" },
    });
    const ci = (data: number[][], color: string) => ({
      type: "line", xAxisIndex: gi, yAxisIndex: gi, data, step: "end", symbol: "none", silent: true, z: 2,
      lineStyle: { color, width: 1, type: [1.5, 2], opacity: 0.8 },
    });
    const main = (data: number[][], color: string) => ({
      type: "line", xAxisIndex: gi, yAxisIndex: gi, data, step: "end", symbol: "none", silent: true, z: 3,
      lineStyle: { color, width: 1.8 },
    });
    const cens = (times: number[], curve: number[][], color: string) => ({
      type: "scatter", xAxisIndex: gi, yAxisIndex: gi, silent: true, z: 4,
      data: times.map((tm) => [tm, survAt(curve, tm)]),
      symbol: "rect", symbolSize: [1.3, 9], itemStyle: { color, opacity: 0.75 },
    });
    series.push(ci(p.lowUp, "#4040FF"), ci(p.lowLo, "#4040FF"), ci(p.highUp, "#FF4040"), ci(p.highLo, "#FF4040"));
    series.push(main(p.low, BLUE), main(p.high, RED));
    series.push(cens(p.lowCens, p.low, BLUE), cens(p.highCens, p.high, RED));

    graphics.push(txt((l + rr) / 2 - 3, KM_TITLE_Y[j], p.title, 17));
    const legLow = `Low ${p.gene} Group`;
    const legHigh = `High ${p.gene} Group`;
    const maxW = Math.max(textWidth(legLow, 11.5), textWidth(legHigh, 11.5));
    const tl = rr - 6.5 - maxW;
    [[legLow, BLUE], [legHigh, RED]].forEach(([s, col], k) => {
      const y = t + LEG_DY[k];
      graphics.push({ type: "line", silent: true, shape: { x1: tl - 26, y1: y, x2: tl - 3, y2: y }, style: { stroke: col, lineWidth: 2 } });
      graphics.push(txt(tl, y, s, 11.5, "left"));
    });
    p.stats.forEach((s, k) => graphics.push(txt(rr - 9, t + LEG_DY[k + 2], s, 11.5, "right")));
  });

  // panel letters
  graphics.push(txt(7, 25, "a", 44, "left"));
  graphics.push(txt(6, 862, "b", 46, "left", "bold"));
  graphics.push(txt(16, 1188, "c", 52, "left", "bold"));

  return {
    animation: false,
    backgroundColor: "#ffffff",
    grid: grids,
    xAxis: xAxes,
    yAxis: yAxes,
    series,
    graphic: graphics,
  };
}

export default function App() {
  const ref = useRef<HTMLDivElement>(null);
  useEffect(() => {
    if (!ref.current) return;
    const chart = echarts.init(ref.current, undefined, { renderer: "svg" });
    chart.setOption(buildOption() as any);
    return () => chart.dispose();
  }, []);
  return <div ref={ref} style={{ position: "absolute", left: 0, top: 0, width: 1314, height: 1508, background: "#fff" }} />;
}
